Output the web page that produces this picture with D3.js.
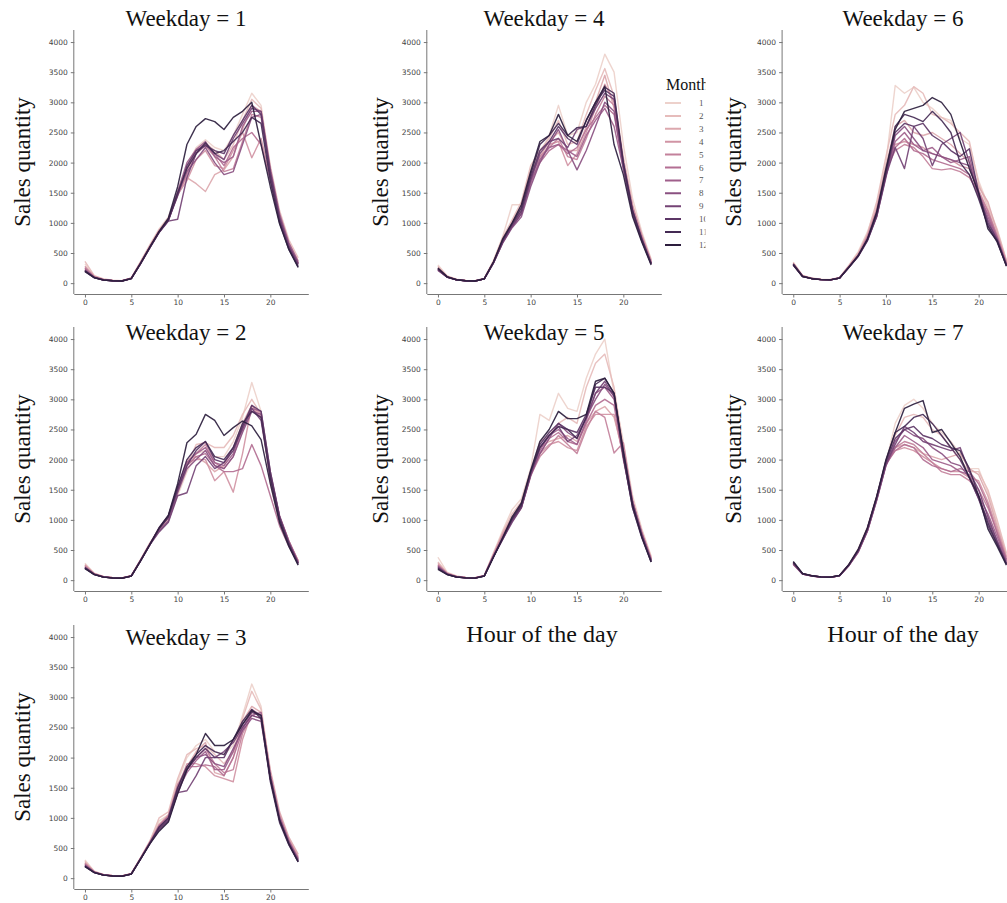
<!DOCTYPE html>
<html>
<head>
<meta charset="utf-8">
<script src="https://cdn.jsdelivr.net/npm/d3@7"></script>
<style>
  body { margin: 0; background: #fff; }
  svg { display: block; }
  .tick text { font-family: "DejaVu Sans", sans-serif; font-size: 7.5px; fill: #444; }
  .tick line { stroke: #777; }
  .domain { stroke: #777; }
</style>
</head>
<body>
<div id="chart-area"></div>
<script>
/*
*    weekday / hour / month sales chart
*/

var HOURS = [0,1,2,3,4,5,6,7,8,9,10,11,12,13,14,15,16,17,18,19,20,21,22,23]
var MONTHS = [1,2,3,4,5,6,7,8,9,10,11,12]
var WEEKDAYS = [1,2,3,4,5,6,7]
var Y_TICKS = [0,500,1000,1500,2000,2500,3000,3500,4000]
var X_TICKS = [0,5,10,15,20]

// one row per month (1..12), one value per hour (0..23)
var weekday1 = [
  [320,120,65,45,40,85,360,640,900,1100,1500,1950,2250,2380,2250,2200,2450,2800,3150,2950,1900,1150,680,380],
  [360,125,70,48,42,88,350,620,880,1080,1480,1850,2200,2330,2200,2050,2300,2700,3050,2900,1950,1200,720,420],
  [260,105,58,42,38,80,340,610,870,1070,1500,1750,1650,1520,1800,1880,2100,2550,2950,2850,1850,1100,660,360],
  [280,110,60,44,40,82,345,615,875,1065,1470,1700,2050,2200,1950,1900,2200,2500,2080,2400,1750,1050,600,330],
  [230,100,56,42,38,80,335,600,860,1060,1450,1800,2150,2280,2100,1850,1900,2350,2800,2750,1850,1100,640,340],
  [250,102,58,44,40,82,330,595,850,1040,1480,1900,2200,2300,2150,1950,2250,2400,2500,2300,1700,1020,600,320],
  [210,95,52,40,36,78,325,590,845,1050,1520,2000,2220,2350,2100,2000,2100,2600,2850,2850,1900,1150,670,360],
  [220,96,54,41,37,79,330,600,850,1040,1480,1850,2050,2250,2000,1800,1850,2300,2750,2800,1800,1050,620,330],
  [200,92,52,40,36,76,320,585,840,1030,1060,1750,2150,2300,2150,2050,2400,2650,2900,2850,1850,1100,620,320],
  [210,94,54,41,37,78,328,595,850,1045,1450,1950,2200,2280,2200,2150,2450,2700,2950,2800,1800,1050,580,290],
  [190,90,50,39,35,74,322,590,845,1050,1500,1900,2150,2330,2150,2200,2350,2500,2750,2650,1700,1000,560,270],
  [200,92,52,40,36,76,330,600,860,1080,1600,2300,2600,2730,2680,2550,2750,2850,3000,2300,1600,980,560,260]
]

var weekday2 = [
  [280,115,60,42,38,75,340,620,820,1000,1400,1800,2100,2150,2050,2050,2300,2700,3280,2800,1650,1000,620,330],
  [260,110,58,41,37,74,335,610,830,1010,1450,1900,2250,2280,2200,2200,2400,2750,3000,2750,1600,950,600,300],
  [240,105,56,40,36,72,330,600,840,1030,1500,2000,2050,1950,1800,1900,2200,2600,2900,2700,1750,1050,650,320],
  [250,108,57,41,37,73,335,605,850,1040,1480,1950,2000,2000,1650,1800,1460,2100,2900,2750,1700,1030,630,310],
  [230,102,55,40,35,71,330,595,850,1050,1520,1950,2100,2250,1950,1850,2050,2500,2850,2700,1750,1050,650,320],
  [220,100,54,39,35,70,328,590,860,1060,1500,1900,2050,2100,1900,1800,1800,1850,2250,1900,1400,900,560,280],
  [210,98,53,38,34,69,325,600,870,1070,1550,1950,2100,2200,1950,1900,2100,2550,2850,2800,1800,1070,650,300],
  [205,96,52,38,34,68,322,590,820,980,1450,1850,2000,2150,1900,1850,2050,2450,2800,2750,1750,1050,630,290],
  [200,95,51,37,33,67,320,585,800,960,1400,1450,1900,2050,1850,1950,2200,2500,2850,2650,1700,1000,600,280],
  [210,97,52,38,34,68,325,590,850,1040,1500,1900,2150,2300,2000,1950,2150,2550,2900,2800,1800,1050,610,280],
  [200,95,51,37,33,67,322,595,860,1060,1550,2000,2200,2300,2050,2000,2200,2600,2800,2700,1700,1000,580,260],
  [190,92,50,36,32,66,320,590,870,1080,1600,2280,2420,2750,2650,2400,2530,2640,2560,2330,1600,950,560,250]
]

var weekday3 = [
  [300,115,60,42,38,78,340,620,950,1050,1600,2000,2200,2300,2100,2050,2200,2700,3220,2850,1750,1050,650,380],
  [280,110,58,41,37,76,335,610,1000,1100,1650,2050,2150,2200,2050,1900,2100,2650,3100,2800,1700,1000,630,360],
  [260,105,57,40,36,74,330,600,900,1050,1550,1850,2100,2250,1750,1700,2000,2600,2850,2750,1800,1100,680,400],
  [250,104,56,40,36,73,330,600,880,1000,1500,1900,1900,1850,1700,1650,1600,2300,2750,2700,1750,1050,640,350],
  [240,102,55,39,35,72,328,595,860,1020,1550,1800,2000,2150,1900,1750,1800,2400,2700,2650,1700,1000,620,330],
  [230,100,54,39,35,71,325,590,870,1030,1500,1850,1850,1880,1850,1700,2000,2450,2800,2700,1650,1000,600,320],
  [220,98,53,38,34,70,322,585,850,1000,1450,1750,1950,2100,1800,1800,2100,2500,2700,2750,1700,1020,620,320],
  [210,96,52,38,34,69,320,580,830,980,1400,1800,2000,2050,1900,1850,2150,2450,2650,2600,1650,960,580,300],
  [200,95,51,37,33,68,318,570,800,950,1420,1450,1700,2000,2000,2100,2250,2500,2700,2650,1700,980,590,290],
  [205,96,52,38,34,69,320,580,820,960,1450,1800,2000,2150,2000,2000,2300,2550,2750,2700,1650,960,560,280],
  [195,94,50,37,33,67,318,575,850,1000,1500,1850,2050,2200,2100,2050,2300,2600,2800,2650,1600,920,550,270],
  [190,92,50,36,32,66,315,570,780,930,1400,1800,2050,2400,2200,2200,2300,2550,2780,2700,1650,960,570,270]
]

var weekday4 = [
  [300,120,65,45,40,80,380,780,1300,1300,1900,2150,2450,2950,2450,2500,3000,3300,3800,3500,2300,1400,850,400],
  [280,115,62,44,39,78,370,760,1050,1350,1950,2200,2400,2700,2300,2350,2800,3200,3560,3100,2100,1300,800,380],
  [260,110,60,43,38,76,360,740,1000,1300,1850,2100,2350,2500,2200,2200,2600,3000,3450,2900,2000,1250,780,360],
  [250,108,58,42,37,75,355,720,980,1250,1800,2050,2300,2350,1950,2150,2500,2900,3300,3000,2050,1280,800,370],
  [240,105,57,41,36,74,350,700,960,1200,1750,2100,2250,2400,2100,2050,2400,2800,3100,2950,2000,1250,760,350],
  [230,102,56,40,35,73,345,690,950,1180,1700,2000,2200,2300,2150,2250,2550,2750,2950,2800,1950,1200,740,340],
  [220,100,55,40,35,72,340,680,940,1150,1650,2050,2250,2300,2200,2100,2450,2700,2900,2600,1900,1150,700,320],
  [210,98,54,39,34,71,338,670,920,1100,1600,2000,2300,2550,2200,1880,2200,2600,3000,2850,1900,1180,720,330],
  [220,99,54,39,34,71,340,680,940,1150,1700,2150,2350,2400,2250,2550,2600,2900,3150,3050,2000,1200,740,330],
  [230,100,55,40,35,72,345,700,970,1200,1750,2200,2350,2600,2400,2300,2700,3000,3200,3100,1950,1150,700,320],
  [240,102,56,40,35,72,350,720,990,1250,1800,2300,2450,2650,2450,2580,2600,2950,3250,3150,2000,1200,720,320],
  [250,104,57,41,36,73,355,740,1000,1300,1850,2350,2450,2800,2450,2350,2700,3000,3270,2300,1800,1100,680,300]
]

var weekday5 = [
  [380,130,70,46,40,80,460,830,1170,1350,1850,2750,2650,3100,2850,2800,3350,3750,4000,3100,2300,1400,850,400],
  [300,120,65,44,39,78,440,800,1100,1300,1800,2300,2400,2600,2700,2600,3200,3600,3750,3200,2200,1350,820,380],
  [280,115,62,43,38,76,430,780,1050,1280,1780,2200,2300,2350,2400,2300,2600,2800,2880,2700,2100,1300,800,370],
  [260,110,60,42,37,75,420,760,1020,1250,1750,2100,2250,2300,2200,2150,2550,2750,2750,2750,2050,1250,780,360],
  [250,108,58,41,36,74,420,740,1000,1220,1740,2050,2220,2400,2250,2100,2500,2800,2700,2110,2280,1300,780,350],
  [240,105,57,40,36,73,410,720,980,1200,1720,2100,2350,2450,2300,2250,2600,2900,3000,2900,2000,1250,760,340],
  [230,102,56,40,35,72,405,700,990,1220,1760,2150,2400,2500,2350,2250,2650,3100,3200,3000,2100,1300,780,340],
  [220,100,55,39,35,71,400,690,980,1210,1750,2100,2350,2600,2450,2350,2700,3000,3250,3050,2150,1300,760,330],
  [210,98,54,38,34,70,395,680,960,1200,1740,2200,2400,2550,2300,2400,2700,3100,3300,3050,2100,1250,740,320],
  [200,96,53,38,34,69,390,690,1000,1220,1780,2250,2450,2600,2500,2450,2750,3200,3200,3100,2050,1200,720,310],
  [190,94,52,37,33,68,390,700,1020,1250,1800,2200,2400,2550,2500,2350,2700,3250,3350,3100,2050,1200,700,300],
  [180,92,51,37,33,67,385,710,1050,1280,1820,2300,2500,2800,2680,2680,2750,3300,3350,3100,2150,1250,720,300]
]

var weekday6 = [
  [350,130,85,65,60,95,300,520,850,1300,2000,3280,3150,3250,3000,2900,2750,2700,2400,2300,1700,1300,900,380],
  [340,125,82,63,58,92,290,500,820,1350,2100,2800,2950,3260,3150,2800,2750,2650,2500,2350,1650,1250,880,370],
  [330,120,80,62,57,90,280,480,800,1250,1950,2600,2700,2500,2450,2500,2400,2300,2150,2000,1600,1350,850,360],
  [320,118,78,60,56,88,275,470,780,1220,1900,2300,2350,2300,2250,2150,2100,2050,1950,1900,1550,1200,800,340],
  [310,115,76,59,55,86,270,460,760,1200,1880,2200,2300,2250,2100,1900,1880,1900,1850,1750,1500,1200,780,330],
  [300,112,74,58,54,85,265,455,750,1180,1850,2250,2400,2200,2150,2050,2000,1950,1900,1800,1450,1150,760,320],
  [310,114,75,58,54,85,265,450,740,1150,1800,2350,2500,2300,2200,2250,2100,2000,2050,2100,1500,1100,750,310],
  [320,116,76,59,55,86,270,460,720,1100,1750,2450,2600,2400,2200,2150,2100,2050,2000,1950,1450,1050,720,300],
  [300,110,74,58,54,84,260,440,700,1100,1780,2250,1900,2600,2400,1950,2300,2400,2500,2000,1450,950,700,290],
  [310,112,75,58,54,85,262,445,710,1120,1800,2500,2650,2600,2650,2450,2350,2200,2100,2230,1500,1000,720,300],
  [320,115,76,59,55,86,268,455,720,1150,1850,2600,2800,2750,2680,2850,2700,2500,2000,1800,1400,950,680,290],
  [300,110,74,58,54,84,262,450,730,1180,1900,2550,2850,2900,2950,3080,3000,2800,2350,1900,1500,900,700,280]
]

var weekday7 = [
  [300,110,75,55,50,80,260,520,880,1400,1950,2600,2900,3000,2850,2600,2450,2300,2100,1850,1850,1450,950,430],
  [290,108,73,54,49,78,255,500,860,1380,1950,2400,2700,2750,2700,2500,2400,2200,2000,1800,1800,1500,1000,450],
  [280,105,72,53,48,77,250,490,850,1370,1980,2200,2250,2200,2100,2050,2000,2050,2100,1850,1750,1400,900,400],
  [275,104,71,52,47,76,248,480,840,1360,1950,2150,2200,2150,2050,1950,1850,1800,1800,1700,1650,1300,850,380],
  [270,102,70,52,47,75,245,470,830,1350,1940,2200,2300,2250,2100,1950,1800,1750,1750,1650,1500,1200,800,350],
  [260,100,68,50,46,74,240,460,820,1340,1920,2150,2250,2200,2000,1900,1850,1800,1850,1800,1600,1250,780,340],
  [265,101,69,51,46,74,242,465,810,1330,1900,2200,2400,2300,2200,2000,1950,1900,1800,1750,1400,1100,720,320],
  [270,102,70,51,47,75,245,470,815,1320,1900,2300,2500,2400,2350,2200,2100,1950,1900,1700,1350,1000,650,290],
  [280,104,71,52,47,76,248,480,830,1350,1920,2250,2550,2450,2300,2250,2200,2150,2200,1800,1500,1050,650,280],
  [290,106,72,53,48,77,252,490,850,1370,1950,2350,2500,2550,2400,2350,2250,2200,2000,1700,1350,900,600,270],
  [300,108,73,54,49,78,255,500,860,1380,1980,2450,2550,2700,2750,2600,2400,2200,2150,1850,1400,950,600,260],
  [310,110,74,55,50,79,260,510,870,1390,2000,2450,2850,2920,2980,2450,2500,2280,2050,1700,1400,850,560,250]
]

var panelData = [weekday1, weekday2, weekday3, weekday4, weekday5, weekday6, weekday7]

// layout
var width = 1007
var height = 903
var colLeft = [74.3, 427.3, 782.6]
var rowTop = [30, 327, 625]
var panelW = 234.5
var panelH = 264
var titleX = [186, 544, 903]
var titleY = [26, 340, 645]
var ylabelX = [22, 380, 733]
// weekday -> [col, row]
var panelPos = {1: [0, 0], 2: [0, 1], 3: [0, 2], 4: [1, 0], 5: [1, 1], 6: [2, 0], 7: [2, 1]}

// seaborn-style cubehelix (start 0, rot .4, hue .8, light .85, dark .15)
function cubehelix(t) {
	var x = 0.85 + (0.15 - 0.85) * t
	var a = 0.8 * x * (1 - x) / 2
	var phi = 2 * Math.PI * (0.4 * x)
	var c = Math.cos(phi), s = Math.sin(phi)
	var r = x + a * (-0.14861 * c + 1.78277 * s)
	var g = x + a * (-0.29227 * c - 0.90649 * s)
	var b = x + a * (1.97294 * c)
	var clamp = v => Math.max(0, Math.min(255, Math.round(v * 255)))
	return d3.rgb(clamp(r), clamp(g), clamp(b)).formatHex()
}

var color = d3.scaleSequential()
.domain([1, 12])
.interpolator(cubehelix)

var svg = d3.select("#chart-area").append("svg")
.attr("width", width)
.attr("height", height)
.style("background", "#fff")

var serif = "'Liberation Serif', 'Times New Roman', serif"

WEEKDAYS.forEach((wd, i) => {
	var col = panelPos[wd][0]
	var row = panelPos[wd][1]
	var left = colLeft[col]
	var top = rowTop[row]

	var x = d3.scaleLinear()
	.domain([-1.15, 24.15])
	.range([left, left + panelW])

	var y = d3.scaleLinear()
	.domain([-180, 4200])
	.range([top + panelH, top])

	var g = svg.append("g")

	// Title
	g.append("text")
	.attr("x", titleX[col])
	.attr("y", titleY[row])
	.attr("text-anchor", "middle")
	.attr("font-family", serif)
	.attr("font-size", "23px")
	.style("fill", "#111")
	.text("Weekday = " + wd)

	// Y Label
	g.append("text")
	.attr("transform", "translate(" + ylabelX[col] + "," + (top + panelH / 2) + ") rotate(-90)")
	.attr("text-anchor", "middle")
	.attr("dominant-baseline", "central")
	.attr("font-family", serif)
	.attr("font-size", "23px")
	.style("fill", "#111")
	.text("Sales quantity")

	var xAxisCall = d3.axisBottom(x).tickValues(X_TICKS).tickSize(3.5).tickPadding(2.5)
	.tickFormat(d3.format("d"))
	var yAxisCall = d3.axisLeft(y).tickValues(Y_TICKS).tickSize(3.5).tickPadding(3)
	.tickFormat(d3.format("d"))

	g.append("g")
	.attr("transform", "translate(0, " + (top + panelH) + ")")
	.call(xAxisCall)
	.call(a => a.select(".domain").attr("d", "M" + left + ",0.5H" + (left + panelW)))

	g.append("g")
	.attr("transform", "translate(" + left + ", 0)")
	.call(yAxisCall)
	.call(a => a.select(".domain").attr("d", "M-0.5," + top + "V" + (top + panelH)))

	var line = d3.line()
	.x((d, h) => x(HOURS[h]))
	.y(d => y(d))

	g.selectAll("path.month")
	.data(panelData[i])
	.enter().append("path")
	.attr("class", "month")
	.attr("d", line)
	.attr("fill", "none")
	.attr("stroke", (d, m) => color(MONTHS[m]))
	.attr("stroke-width", 1.4)
	.attr("stroke-linejoin", "round")
	.attr("opacity", 0.92)
})

// X Labels (only under the bottom panels of columns 2 and 3)
;[[542, 642], [903, 642]].forEach(p => {
	svg.append("text")
	.attr("x", p[0])
	.attr("y", p[1])
	.attr("text-anchor", "middle")
	.attr("font-family", serif)
	.attr("font-size", "24px")
	.style("fill", "#111")
	.text("Hour of the day")
})

// Legend, clipped by the neighbouring panel
svg.append("clipPath")
.attr("id", "legend-clip")
.append("rect")
.attr("x", 600)
.attr("y", 60)
.attr("width", 105.5)
.attr("height", 220)

var legend = svg.append("g")
.attr("clip-path", "url(#legend-clip)")

legend.append("text")
.attr("x", 666)
.attr("y", 90)
.attr("font-family", serif)
.attr("font-size", "16px")
.style("fill", "#111")
.text("Month")

MONTHS.forEach((m, i) => {
	var ly = 103 + i * 12.9
	legend.append("line")
	.attr("x1", 665)
	.attr("x2", 681)
	.attr("y1", ly)
	.attr("y2", ly)
	.attr("stroke", color(m))
	.attr("stroke-width", 2)

	legend.append("text")
	.attr("x", 699)
	.attr("y", ly)
	.attr("dominant-baseline", "central")
	.attr("font-family", serif)
	.attr("font-size", "9px")
	.style("fill", "#555")
	.text(m)
})
</script>
</body>
</html>
